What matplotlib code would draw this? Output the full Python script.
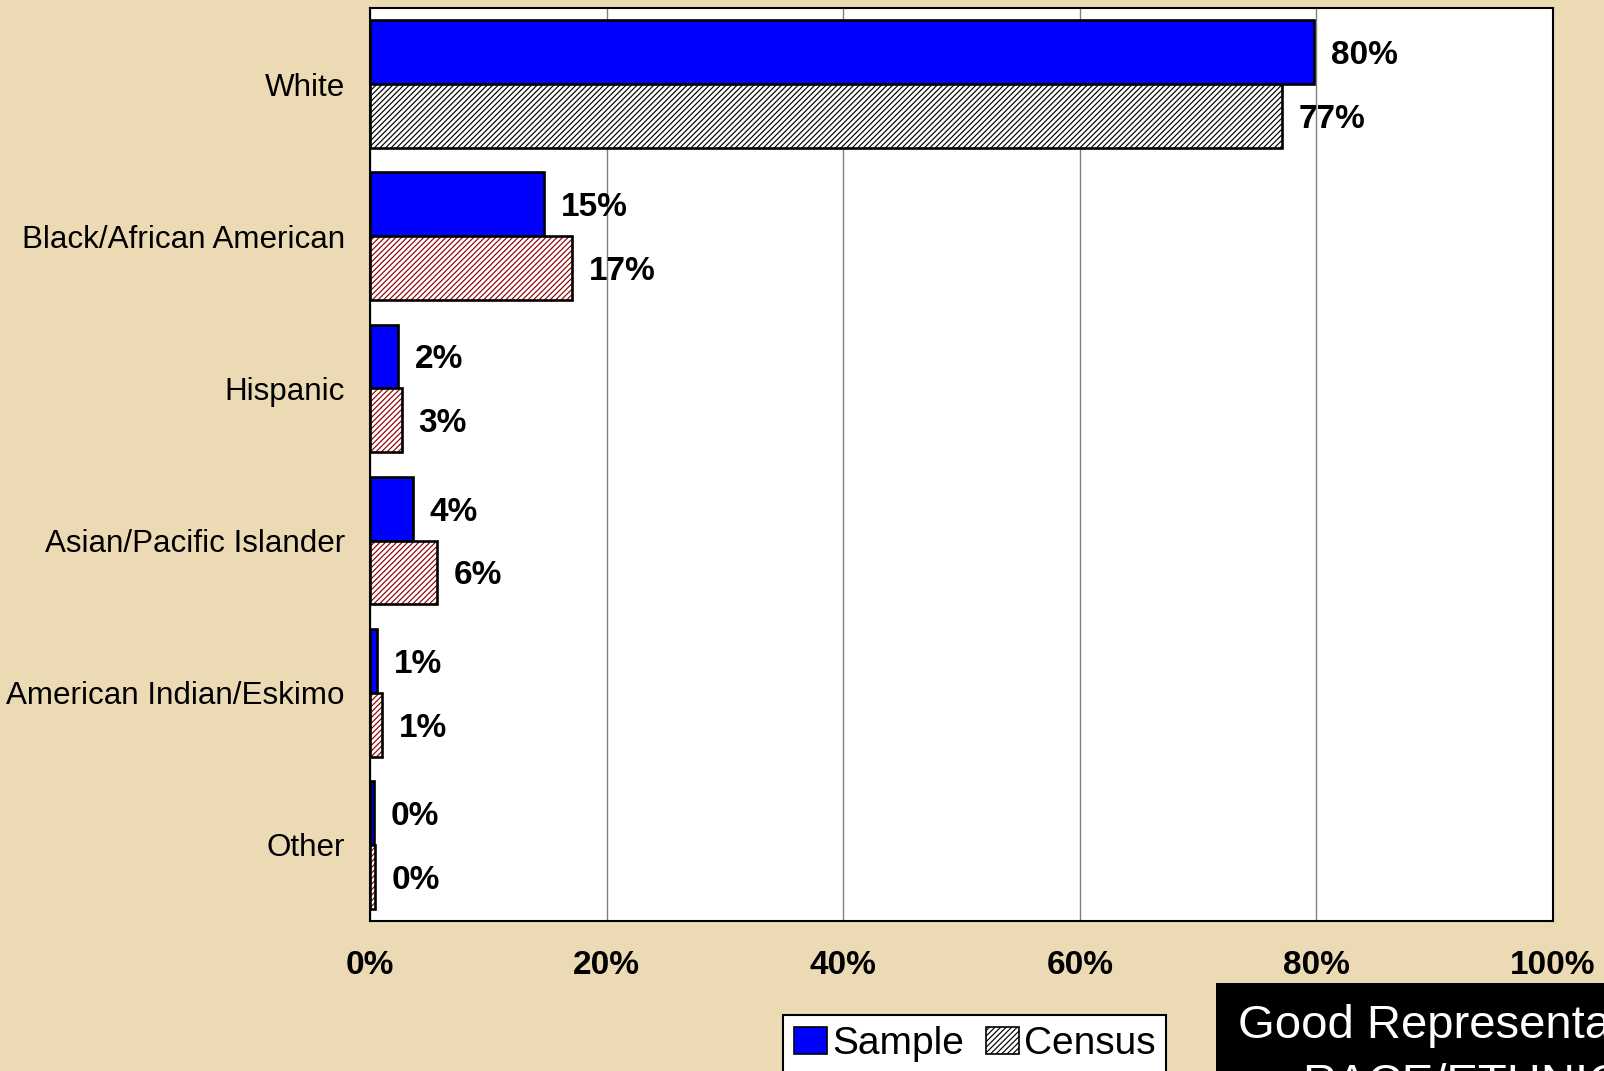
import matplotlib
matplotlib.use("Agg")
import matplotlib.pyplot as plt
from matplotlib.patches import Patch, Rectangle
import numpy as np

# Ethnic make-up of the survey sample compared with the census (percent)
categories = ["White", "Black/African American", "Hispanic",
              "Asian/Pacific Islander", "American Indian/Eskimo", "Other"]
sample_pct = [79.8, 14.7, 2.4, 3.6, 0.6, 0.3]
census_pct = [77.1, 17.1, 2.7, 5.7, 1.0, 0.4]
series_names = ["Sample", "Census"]
x_ticks = [0, 20, 40, 60, 80, 100]
x_tick_labels = ["0%", "20%", "40%", "60%", "80%", "100%"]
note_lines = ["Good Representation on", "RACE/ETHNICITY"]

plt.rcParams["font.family"] = ["Liberation Sans", "DejaVu Sans"]
plt.rcParams["hatch.linewidth"] = 0.85

W, H = 1604, 1071
fig = plt.figure(figsize=(W / 100, H / 100), dpi=100)
fig.patch.set_facecolor("#EBDAB4")

ax = fig.add_axes([370 / W, 150 / H, (1553 - 370) / W, (921 - 8) / H])
ax.set_facecolor("white")

y = np.arange(len(categories))
h = 0.42
sample_color = "#0000FF"
census_hatch = ["#000000"] + ["#8B0000"] * (len(categories) - 1)

ax.barh(y - h / 2, sample_pct, height=h, color=sample_color,
        edgecolor="black", linewidth=1.9, zorder=3)
# hatched fill first, then a plain black outline on top
ax.barh(y + h / 2, census_pct, height=h, color="white",
        edgecolor=census_hatch, hatch="//////", linewidth=0, zorder=3)
ax.barh(y + h / 2, census_pct, height=h, fill=False,
        edgecolor="black", linewidth=1.9, zorder=4)

for vals, off in ((sample_pct, -h / 2), (census_pct, h / 2)):
    for yi, v in zip(y, vals):
        ax.annotate(f"{v:.0f}%", xy=(v, yi + off), xytext=(12, -8.6),
                    textcoords="offset points", ha="left", va="baseline",
                    fontsize=24, fontweight="bold", zorder=5)

ax.set_xlim(0, 100)
ax.set_ylim(5.5, -0.5)
ax.set_xticks(x_ticks, x_tick_labels, fontsize=24, fontweight="bold")
ax.set_yticks(y, categories, fontsize=22.6)
ax.tick_params(axis="both", length=0)
ax.tick_params(axis="x", pad=21)
ax.tick_params(axis="y", pad=18)
ax.xaxis.grid(True, color="#808080", linewidth=1.0)
ax.set_axisbelow(True)
for s in ax.spines.values():
    s.set_linewidth(1.5)
    s.set_color("black")

handles = [Patch(facecolor=sample_color, edgecolor="black", linewidth=1.2),
           Patch(facecolor="white", edgecolor="black", hatch="//////", linewidth=1.2)]
leg = fig.legend(handles, series_names, loc="upper left",
                 bbox_to_anchor=(783 / W, 1 - 1015 / H), bbox_transform=fig.transFigure,
                 ncol=2, fontsize=28, frameon=True, fancybox=False,
                 edgecolor="black", framealpha=1, borderpad=0.28,
                 handlelength=0.85, handleheight=0.69, handletextpad=0.13,
                 columnspacing=0.56, borderaxespad=0)
leg.get_frame().set_linewidth(1.5)

fig.add_artist(Rectangle((1216 / W, 0), 1 - 1216 / W, 1 - 983 / H,
                         transform=fig.transFigure, facecolor="black",
                         edgecolor="none", zorder=1))
fig.text(1238 / W, 1 - 1038 / H, note_lines[0], color="white", fontsize=34,
         ha="left", va="baseline", zorder=2)
fig.text(1302 / W, 1 - 1097 / H, note_lines[1], color="white", fontsize=34,
         ha="left", va="baseline", zorder=2)

fig.savefig("out.png", dpi=100, facecolor=fig.get_facecolor())
